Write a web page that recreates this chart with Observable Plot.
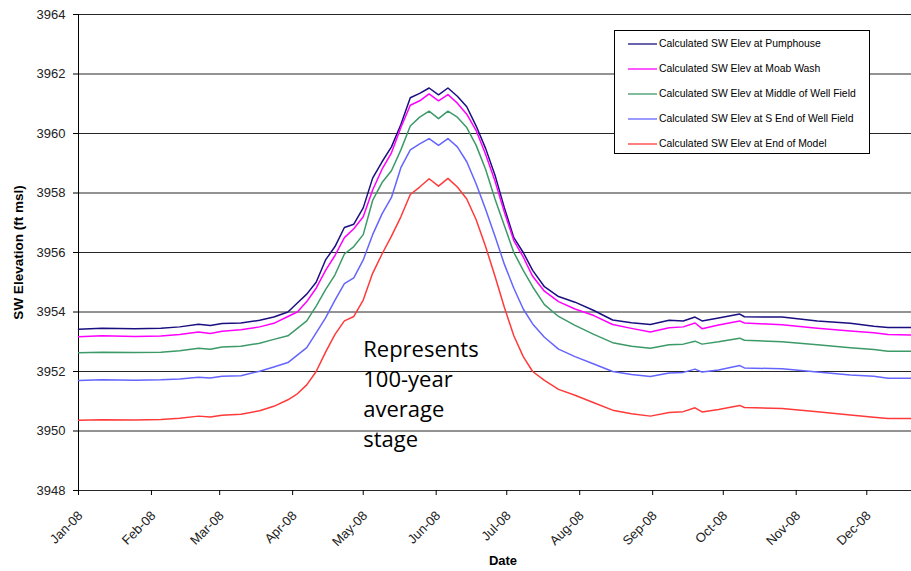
<!DOCTYPE html>
<html>
<head>
<meta charset="utf-8">
<script src="https://cdn.jsdelivr.net/npm/d3@7"></script>
<script src="https://cdn.jsdelivr.net/npm/@observablehq/plot@0.6"></script>
<style>
  html, body { margin: 0; padding: 0; background: #fff; }
  #wrap { position: relative; width: 911px; height: 571px; font-family: "Liberation Sans", Arial, sans-serif; }
  #legend { position: absolute; left: 614px; top: 30px; width: 256px; height: 124px; border: 1px solid #000; background: #fff; box-sizing: border-box; padding-top: 0px; }
  .item { display: flex; align-items: center; height: 25px; font-size: 10.4px; color: #000; white-space: nowrap; }
  .item svg { margin-left: 13px; margin-right: 2px; }
</style>
</head>
<body>
<div id="wrap"><div id="legend"></div></div>
<script>
// ---- data ----
const seriesNames = [
  "Calculated SW Elev at Pumphouse",
  "Calculated SW Elev at Moab Wash",
  "Calculated SW Elev at Middle of Well Field",
  "Calculated SW Elev at S End of Well Field",
  "Calculated SW Elev at End of Model"
];
const seriesColors = ["#1a0f80", "#ff00ff", "#3c9a68", "#6464ff", "#ff3a3a"];

const dates = [
  "2008-01-01","2008-01-11","2008-01-25","2008-02-05","2008-02-13","2008-02-21","2008-02-26","2008-03-02",
  "2008-03-10","2008-03-18","2008-03-24","2008-03-30","2008-04-03","2008-04-07","2008-04-11","2008-04-15",
  "2008-04-19","2008-04-23","2008-04-27","2008-05-01","2008-05-05","2008-05-09","2008-05-13","2008-05-17",
  "2008-05-21","2008-05-25","2008-05-29","2008-06-02","2008-06-06","2008-06-10","2008-06-14","2008-06-18",
  "2008-06-22","2008-06-26","2008-06-30","2008-07-04","2008-07-08","2008-07-12","2008-07-17","2008-07-23",
  "2008-07-30","2008-08-07","2008-08-15","2008-08-23","2008-08-31","2008-09-08","2008-09-14","2008-09-19",
  "2008-09-22","2008-09-29","2008-10-08","2008-10-10","2008-10-26","2008-11-10","2008-11-24","2008-12-04",
  "2008-12-10","2008-12-20"
];

const pumphouse = [
  3953.42,3953.45,3953.44,3953.45,3953.50,3953.59,3953.55,3953.61,
  3953.63,3953.72,3953.83,3954.00,3954.30,3954.60,3955.00,3955.75,
  3956.20,3956.84,3956.95,3957.50,3958.50,3959.05,3959.55,3960.30,
  3961.20,3961.35,3961.53,3961.30,3961.53,3961.25,3960.90,3960.25,
  3959.50,3958.60,3957.50,3956.50,3956.00,3955.40,3954.85,3954.52,
  3954.33,3954.05,3953.73,3953.64,3953.58,3953.72,3953.70,3953.83,
  3953.70,3953.80,3953.93,3953.84,3953.83,3953.70,3953.62,3953.52,
  3953.48,3953.48
];
const moabWash = [
  3953.17,3953.20,3953.18,3953.19,3953.24,3953.33,3953.28,3953.35,
  3953.40,3953.50,3953.62,3953.85,3954.00,3954.35,3954.80,3955.40,
  3955.90,3956.50,3956.80,3957.20,3958.10,3958.80,3959.35,3960.20,
  3960.95,3961.10,3961.33,3961.10,3961.31,3961.02,3960.65,3960.10,
  3959.30,3958.40,3957.35,3956.40,3955.85,3955.20,3954.70,3954.35,
  3954.10,3953.88,3953.58,3953.45,3953.33,3953.47,3953.50,3953.63,
  3953.44,3953.56,3953.70,3953.63,3953.57,3953.45,3953.36,3953.30,
  3953.24,3953.23
];
const middleWellField = [
  3952.63,3952.65,3952.64,3952.65,3952.70,3952.78,3952.75,3952.82,
  3952.85,3952.95,3953.08,3953.20,3953.45,3953.70,3954.20,3954.75,
  3955.25,3955.95,3956.20,3956.60,3957.75,3958.35,3958.75,3959.45,
  3960.25,3960.55,3960.75,3960.50,3960.75,3960.55,3960.20,3959.60,
  3958.80,3957.80,3956.90,3956.00,3955.40,3954.85,3954.25,3953.85,
  3953.55,3953.25,3952.97,3952.85,3952.78,3952.90,3952.92,3953.02,
  3952.92,3953.00,3953.12,3953.05,3953.00,3952.90,3952.80,3952.74,
  3952.68,3952.68
];
const sEndWellField = [
  3951.70,3951.72,3951.71,3951.72,3951.75,3951.81,3951.78,3951.84,
  3951.86,3952.01,3952.15,3952.30,3952.55,3952.80,3953.30,3953.80,
  3954.40,3954.95,3955.15,3955.75,3956.60,3957.30,3957.85,3958.85,
  3959.45,3959.65,3959.83,3959.60,3959.83,3959.55,3959.05,3958.30,
  3957.45,3956.55,3955.60,3954.80,3954.10,3953.60,3953.15,3952.75,
  3952.50,3952.25,3952.00,3951.90,3951.83,3951.95,3951.97,3952.08,
  3951.98,3952.05,3952.20,3952.12,3952.09,3951.98,3951.88,3951.84,
  3951.77,3951.77
];
const endOfModel = [
  3950.36,3950.38,3950.37,3950.39,3950.43,3950.50,3950.47,3950.53,
  3950.56,3950.68,3950.83,3951.05,3951.25,3951.55,3952.00,3952.65,
  3953.25,3953.70,3953.85,3954.40,3955.30,3955.95,3956.55,3957.20,
  3957.95,3958.20,3958.48,3958.23,3958.49,3958.20,3957.80,3957.10,
  3956.20,3955.20,3954.15,3953.20,3952.50,3952.00,3951.70,3951.40,
  3951.20,3950.95,3950.70,3950.58,3950.50,3950.62,3950.65,3950.78,
  3950.64,3950.72,3950.86,3950.79,3950.76,3950.65,3950.54,3950.46,
  3950.42,3950.42
];

const yTicks = [3948, 3950, 3952, 3954, 3956, 3958, 3960, 3962, 3964];
const monthTicks = ["2008-01-01","2008-02-01","2008-03-01","2008-04-01","2008-05-01","2008-06-01",
  "2008-07-01","2008-08-01","2008-09-01","2008-10-01","2008-11-01","2008-12-01"];
const xDomain = ["2008-01-01", "2008-12-20"];
const yLabel = "SW Elevation (ft msl)";
const xLabel = "Date";
const noteText = ["Represents", "100-year", "average", "stage"];
const noteDate = "2008-05-01";
const noteValue = 3953.2;

// ---- build ----
const parse = s => new Date(s + "T00:00:00Z");
const allSeries = [pumphouse, moabWash, middleWellField, sEndWellField, endOfModel];
const rows = [];
allSeries.forEach((vals, si) => {
  vals.forEach((v, i) => rows.push({series: seriesNames[si], date: parse(dates[i]), value: v}));
});
const fmt = d3.utcFormat("%b-%y");
const tickDates = monthTicks.map(parse);

const lineMarks = seriesNames.map((name, si) =>
  Plot.line(rows.filter(r => r.series === name), {
    x: "date", y: "value", stroke: seriesColors[si], strokeWidth: 1.5, curve: "linear"
  })
);

const chart = Plot.plot({
  width: 911,
  height: 571,
  marginLeft: 78,
  marginRight: 0,
  marginTop: 14,
  marginBottom: 81,
  style: {fontFamily: "'Liberation Sans', Arial, sans-serif", background: "#fff", color: "#000"},
  x: {type: "utc", domain: xDomain.map(parse)},
  y: {domain: [yTicks[0], yTicks[yTicks.length - 1]]},
  marks: [
    Plot.ruleY(yTicks, {stroke: "#000", strokeWidth: 1, strokeOpacity: 0.85}),
    Plot.ruleX([parse(xDomain[0])], {stroke: "#000", strokeWidth: 1}),
    ...lineMarks,
    Plot.axisY({ticks: yTicks, tickFormat: d => String(d), tickSize: 5, tickPadding: 8, fontSize: 13, label: null, stroke: "#000", fill: "#222"}),
    Plot.axisX({ticks: tickDates, tickFormat: () => "", tickSize: 5, label: null, stroke: "#000"}),
    Plot.axisX({ticks: tickDates, tickFormat: fmt, tickRotate: -45, tickSize: 0, tickPadding: 23, dx: 2, fontSize: 13, label: null, fill: "#222"}),
    Plot.text([yLabel], {frameAnchor: "left", textAnchor: "middle", rotate: -90, dx: -60, fontWeight: "bold", fontSize: 13.5, fill: "#000"}),
    Plot.text([xLabel], {frameAnchor: "bottom", dy: 74, dx: 8, fontWeight: "bold", fontSize: 13, fill: "#000"}),
    Plot.text([noteText.join("\n")], {x: () => parse(noteDate), y: () => noteValue, textAnchor: "start", lineAnchor: "top", lineHeight: 1.36, fontSize: 22, fontFamily: "'Open Sans', Lato, sans-serif", fill: "#000", style: {letterSpacing: "0.6px"}})
  ]
});
document.getElementById("wrap").prepend(chart);

// legend
const legend = document.getElementById("legend");
seriesNames.forEach((name, si) => {
  const item = document.createElement("div");
  item.className = "item";
  item.innerHTML = `<svg width="29" height="4"><line x1="0" y1="2" x2="29" y2="2" stroke="${seriesColors[si]}" stroke-width="1.3"/></svg><span>${name}</span>`;
  legend.appendChild(item);
});
</script>
</body>
</html>
